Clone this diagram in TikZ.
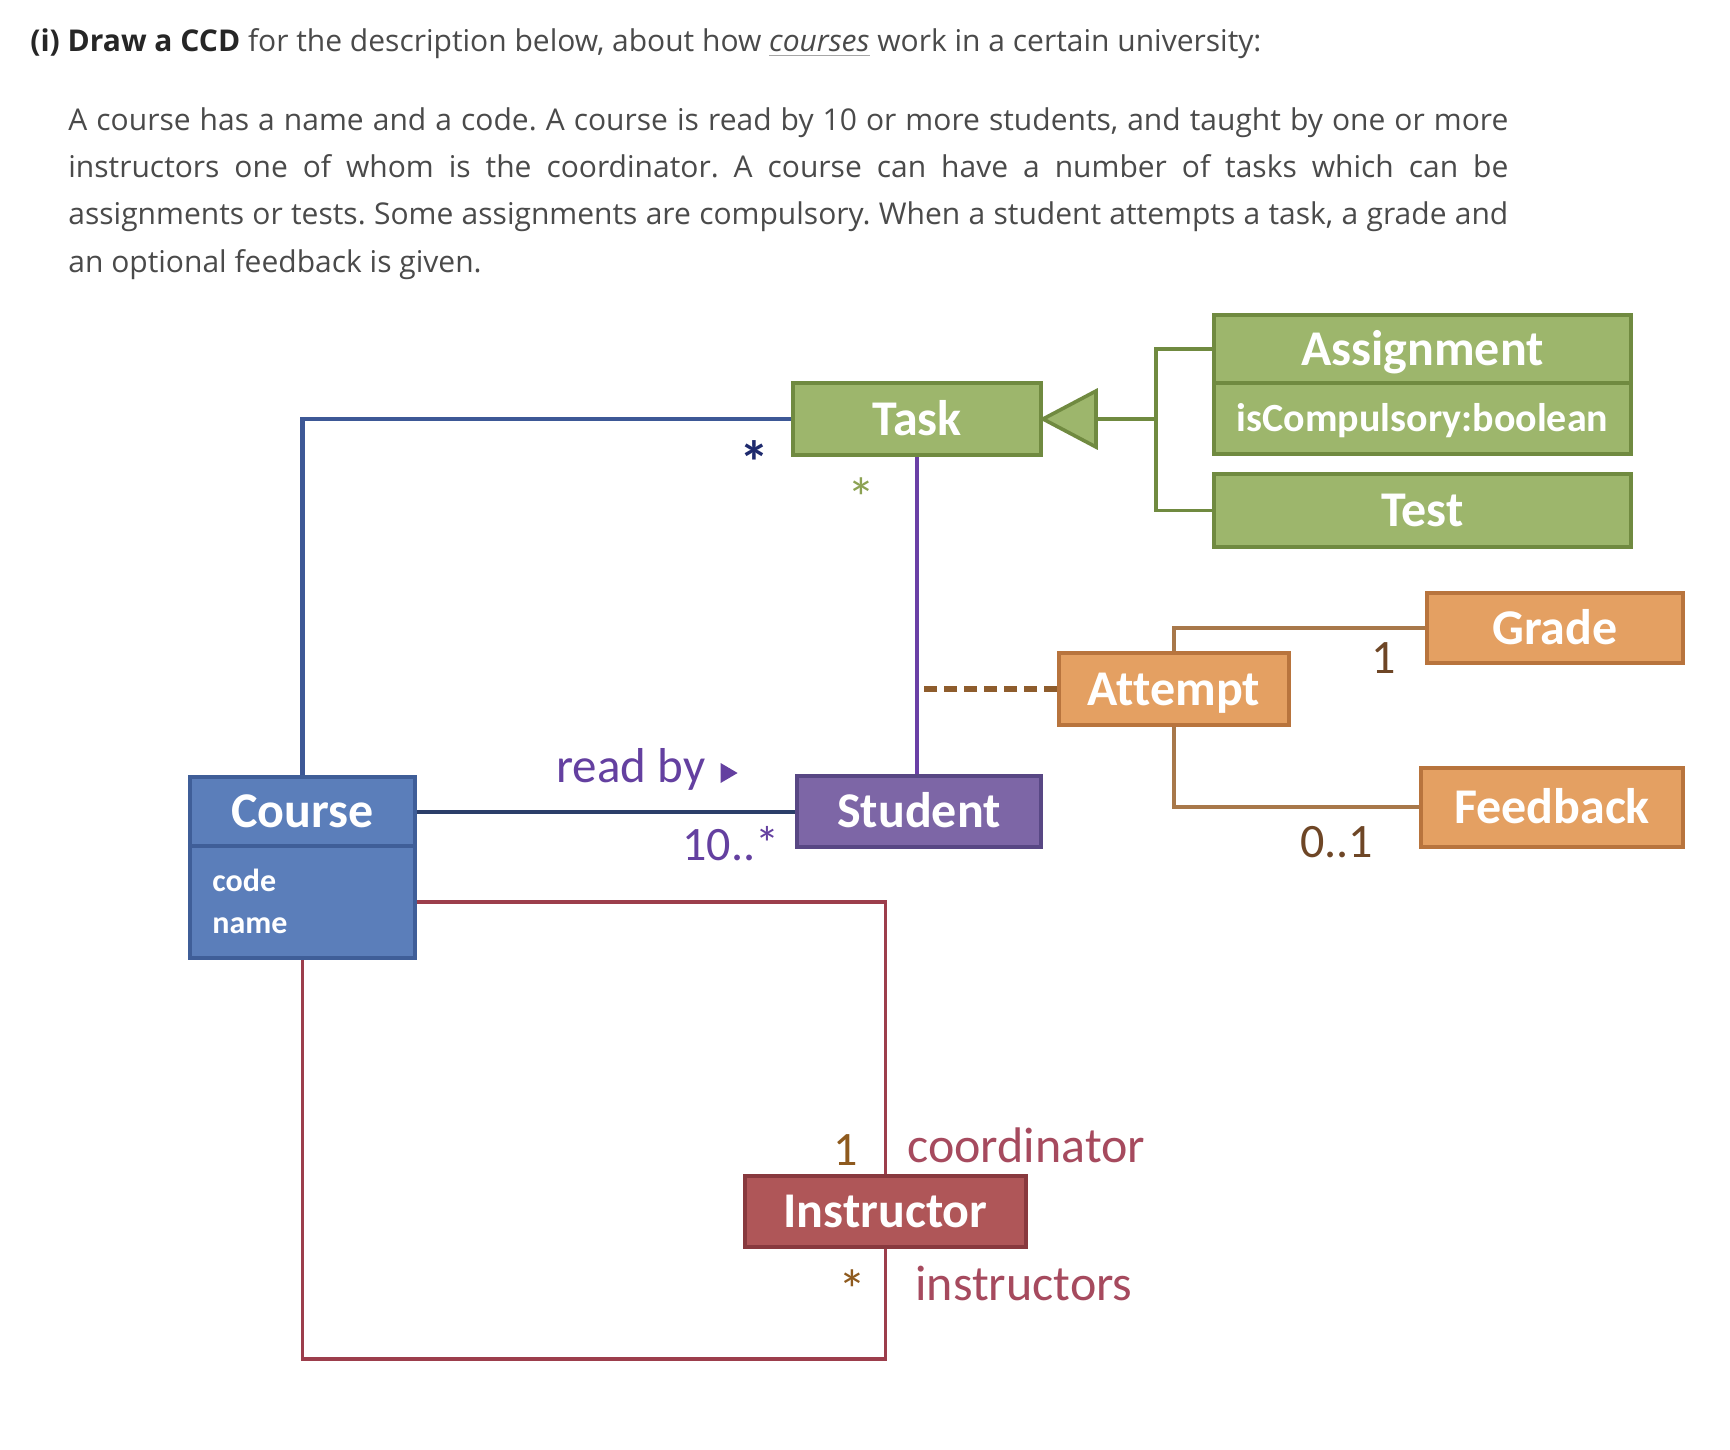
\documentclass[tikz,border=0pt]{standalone}
\usepackage{fontspec}
\setmainfont{Open Sans}
\newfontfamily\calfont[Ligatures=NoCommon]{Carlito}
\usetikzlibrary{calc}
\definecolor{txt}{HTML}{4A4A4A}
\definecolor{txtb}{HTML}{262626}
\definecolor{cCourse}{HTML}{5B7EBA}
\definecolor{cCourseD}{HTML}{3F5E98}
\definecolor{cStud}{HTML}{7D66A6}
\definecolor{cStudD}{HTML}{584784}
\definecolor{cGreen}{HTML}{9DB66C}
\definecolor{cGreenD}{HTML}{708A40}
\definecolor{cOr}{HTML}{E4A062}
\definecolor{cOrD}{HTML}{B8743D}
\definecolor{cRed}{HTML}{AF5658}
\definecolor{cRedD}{HTML}{88393E}
\definecolor{lBlue}{HTML}{3D5896}
\definecolor{lPurp}{HTML}{6A40A6}
\definecolor{lBrown}{HTML}{A8784A}
\definecolor{lDash}{HTML}{8E5C2C}
\definecolor{lRed}{HTML}{9C3E4C}
\definecolor{tPurp}{HTML}{6440A0}
\definecolor{tNavy}{HTML}{1E2A6E}
\definecolor{tGreen}{HTML}{8CA253}
\definecolor{tBrown}{HTML}{6E4626}
\definecolor{tRose}{HTML}{A64A5E}
\definecolor{tOrange}{HTML}{8E5A1E}
\frenchspacing
\begin{document}
\begin{tikzpicture}[x=0.5pt,y=-0.5pt,
  box/.style={draw, line width=2pt, text=white, inner sep=0pt, align=center,
    font=\calfont\bfseries\fontsize{25}{30}\selectfont, text height=16pt, text depth=0pt},
  attrbox/.style={box, font=\calfont\bfseries\fontsize{20}{24}\selectfont, text height=12.9pt},
  para/.style={anchor=base west, inner sep=0pt, text=txt, font=\fontsize{15}{18}\selectfont},
  lbl/.style={anchor=base west, inner sep=0pt, font=\calfont\fontsize{24.5}{28}\selectfont},
  star/.style={inner sep=0pt, font=\calfont\bfseries\fontsize{30}{34}\selectfont},
  conn/.style={line width=1.6pt},
]
\useasboundingbox[fill=white] (0,0) rectangle (1730,1450);

% ---- text ----
\node[para] (hdr) at (30,52) {\textcolor{txtb}{\textbf{(i) Draw a CCD}} for the description below, about how \textcolor{gray!70}{\underline{\textcolor{txt}{\textit{courses}}}} work in a certain university:};
\node[para] (p1) at (68,131) {\hbox to 720pt{A course has a name and a code. A course is read by 10 or more students, and taught by one or more}};
\node[para] (p2) at (68,177) {\hbox to 720pt{instructors one of whom is the coordinator. A course can have a number of tasks which can be}};
\node[para] (p3) at (68,224) {\hbox to 720pt{assignments or tests. Some assignments are compulsory. When a student attempts a task, a grade and}};
\node[para] (p4) at (68,272) {an optional feedback is given.};

% ---- boxes ----
\node[box, fill=cCourse, draw=cCourseD, minimum width=112.5pt, minimum height=56pt] (courseattr) at (302.5,902) {};
\node[box, fill=cCourse, draw=cCourseD, minimum width=112.5pt, minimum height=34.5pt] (course) at (302.5,811.5) {Course};
\node[anchor=base west, inner sep=0pt, text=white, font=\calfont\bfseries\fontsize{16}{20}\selectfont] (code) at (212,891) {code};
\node[anchor=base west, inner sep=0pt, text=white, font=\calfont\bfseries\fontsize{16}{20}\selectfont] (name) at (212,933) {name};

\node[box, fill=cGreen, draw=cGreenD, minimum width=124pt, minimum height=36pt] (task) at (917,419) {Task};
\node[box, fill=cGreen, draw=cGreenD, minimum width=208.5pt, minimum height=34pt] (assign) at (1422.5,349) {Assignment};
\node[attrbox, fill=cGreen, draw=cGreenD, minimum width=208.5pt, minimum height=35.5pt] (assignattr) at (1422.5,418.5) {isCompulsory:boolean};
\node[box, fill=cGreen, draw=cGreenD, minimum width=208.5pt, minimum height=36.5pt] (test) at (1422.5,510.5) {Test};

\node[box, fill=cStud, draw=cStudD, minimum width=122pt, minimum height=35.5pt] (student) at (919,811.5) {Student};

\node[box, fill=cOr, draw=cOrD, minimum width=115pt, minimum height=36pt] (attempt) at (1174,689) {Attempt};
\node[box, fill=cOr, draw=cOrD, minimum width=128pt, minimum height=35pt] (grade) at (1555,628) {Grade};
\node[box, fill=cOr, draw=cOrD, minimum width=131pt, minimum height=39.5pt] (feedback) at (1552,807) {Feedback};

\node[box, fill=cRed, draw=cRedD, minimum width=140.5pt, minimum height=35.5pt] (instructor) at (885.5,1211.5) {Instructor};

% ---- connectors ----
\draw[lBlue, line width=2.2pt] (task.west) -| (course.north);
\draw[lPurp, conn] (task.south) -- (task.south |- student.north);
\draw[lDash, line width=2.6pt, dash pattern=on 6.5pt off 3.5pt] (attempt.west) -- (attempt.west -| task.south);
\draw[lBlue!70!black, line width=2pt] (course.east) -- (student.west);
\draw[lRed, conn] (courseattr.east) -| (instructor.north);
\coordinate (rb) at ($(instructor.south)+(0,110)$);
\draw[lRed, conn] (courseattr.south) |- (rb) -- (instructor.south);
\draw[lBrown, line width=1.8pt] (attempt.north) |- (grade.west);
\draw[lBrown, line width=1.8pt] (attempt.south) |- (feedback.west);

% generalisation
\draw[cGreenD, fill=cGreen, line width=1.8pt, line join=miter] (task.east) -- ++(53,-28) -- ++(0,56) -- cycle;
\coordinate (gbase) at ($(task.east)+(53,0)$);
\coordinate (gj) at ($(task.east)+(113,0)$);
\draw[cGreenD, line width=1.8pt] (gbase) -- (gj);
\draw[cGreenD, line width=1.8pt] (assign.west) -| (gj) |- (test.west);

% ---- labels ----
\node[star, text=tNavy] (s1) at (754,462) {*};
\node[star, text=tGreen, font=\calfont\fontsize{28}{32}\selectfont] (s2) at (861,498) {*};
\node[lbl, text=tPurp] (readby) at (556,782) {read by};
\fill[tPurp] ($(readby.base east)+(15,-19)$) -- ++(17,10) -- ++(-17,10) -- cycle;
\node[lbl, text=tPurp, font=\calfont\fontsize{24}{28}\selectfont] (mstud) at (682,860) {10..*};
\node[lbl, text=tBrown, font=\calfont\fontsize{24}{28}\selectfont] (mgrade) at (1371,673) {1};
\node[lbl, text=tBrown, font=\calfont\fontsize{24}{28}\selectfont] (mfeed) at (1300,857) {0..1};
\node[lbl, text=tOrange, font=\calfont\fontsize{24}{28}\selectfont] (mcoord) at (833,1165) {1};
\node[lbl, text=tRose, font=\calfont\fontsize{25}{30}\selectfont] (coord) at (907,1162) {coordinator};
\node[star, text=tOrange, font=\calfont\fontsize{28}{32}\selectfont] (s3) at (852,1290) {*};
\node[lbl, text=tRose, font=\calfont\fontsize{25}{30}\selectfont] (instr) at (915,1300) {instructors};
\end{tikzpicture}
\end{document}
